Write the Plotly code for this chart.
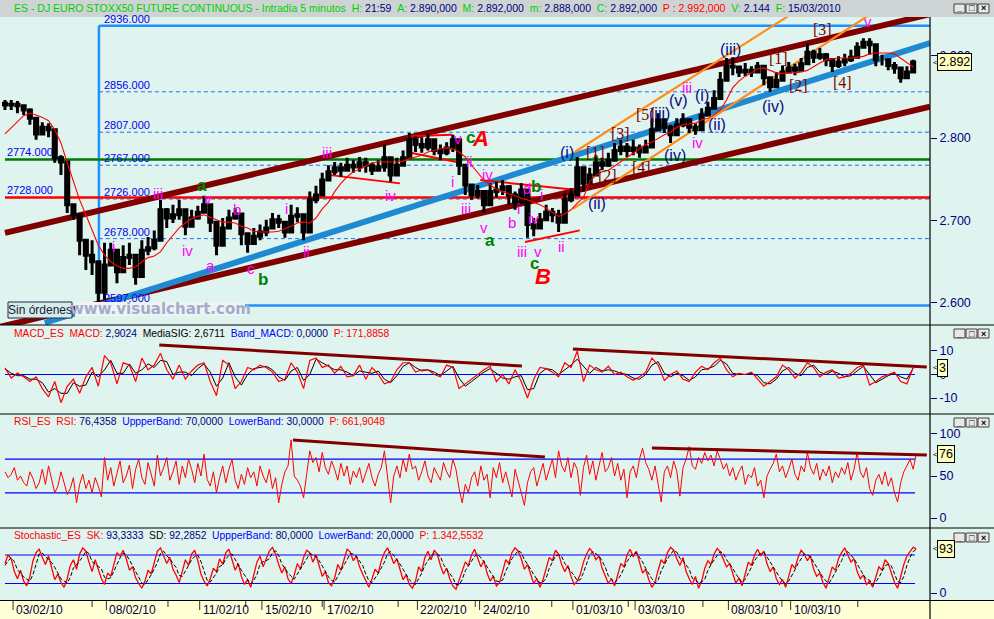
import plotly.graph_objects as go

# ------------------------------------------------------------------ data
# one bar = 1/5 trading day (5-minute candles aggregated)
close = [
    2840, 2841, 2839, 2834, 2824, 2805, 2813, 2810, 2776, 2771,
    2719, 2707, 2676, 2658, 2650, 2613, 2646, 2664, 2638, 2655,
    2658, 2632, 2664, 2667, 2676, 2713, 2703, 2707, 2713, 2693,
    2703, 2710, 2719, 2698, 2670, 2691, 2703, 2708, 2684, 2672,
    2681, 2686, 2691, 2701, 2698, 2686, 2705, 2707, 2686, 2725,
    2731, 2749, 2759, 2764, 2761, 2767, 2765, 2770, 2767, 2761,
    2765, 2776, 2755, 2767, 2776, 2798, 2792, 2789, 2798, 2785,
    2782, 2788, 2798, 2767, 2743, 2731, 2735, 2719, 2735, 2737,
    2741, 2731, 2722, 2737, 2695, 2691, 2701, 2710, 2707, 2698,
    2725, 2731, 2764, 2745, 2755, 2770, 2767, 2773, 2785, 2789,
    2785, 2788, 2783, 2789, 2810, 2822, 2813, 2804, 2816, 2822,
    2813, 2810, 2828, 2836, 2848, 2870, 2887, 2886, 2880, 2882,
    2880, 2887, 2873, 2862, 2870, 2880, 2885, 2882, 2890, 2904,
    2898, 2901, 2895, 2888, 2892, 2895, 2898, 2910, 2916, 2913,
    2895, 2895, 2888, 2885, 2873, 2880, 2892]
high = [
    2846, 2846, 2845, 2841, 2836, 2816, 2819, 2818, 2798, 2779,
    2755, 2715, 2701, 2676, 2676, 2640, 2673, 2673, 2655, 2670,
    2673, 2648, 2676, 2680, 2688, 2725, 2715, 2719, 2725, 2707,
    2713, 2718, 2730, 2713, 2688, 2703, 2713, 2715, 2698, 2682,
    2691, 2695, 2701, 2709, 2707, 2695, 2719, 2716, 2701, 2735,
    2742, 2758, 2767, 2771, 2770, 2776, 2773, 2777, 2776, 2770,
    2773, 2792, 2764, 2776, 2785, 2806, 2802, 2801, 2806, 2794,
    2792, 2795, 2804, 2779, 2761, 2742, 2743, 2731, 2745, 2747,
    2749, 2743, 2735, 2745, 2725, 2703, 2709, 2719, 2715, 2713,
    2733, 2739, 2777, 2759, 2764, 2779, 2776, 2782, 2794, 2798,
    2794, 2798, 2792, 2798, 2824, 2830, 2822, 2816, 2824, 2830,
    2822, 2818, 2836, 2844, 2858, 2880, 2897, 2898, 2888, 2891,
    2887, 2892, 2882, 2870, 2880, 2888, 2892, 2890, 2897, 2915,
    2907, 2909, 2903, 2897, 2899, 2902, 2907, 2916, 2921, 2921,
    2901, 2901, 2895, 2892, 2882, 2887, 2895]
low = [
    2834, 2834, 2830, 2828, 2816, 2798, 2807, 2801, 2770, 2755,
    2709, 2701, 2658, 2640, 2634, 2597, 2604, 2646, 2624, 2638,
    2646, 2622, 2652, 2658, 2664, 2691, 2691, 2697, 2701, 2682,
    2695, 2701, 2713, 2686, 2658, 2676, 2693, 2701, 2670, 2661,
    2673, 2676, 2681, 2691, 2691, 2679, 2695, 2698, 2676, 2707,
    2721, 2737, 2749, 2755, 2753, 2759, 2758, 2759, 2758, 2755,
    2759, 2759, 2747, 2759, 2770, 2783, 2783, 2782, 2785, 2779,
    2773, 2779, 2783, 2755, 2731, 2725, 2727, 2709, 2725, 2728,
    2731, 2719, 2713, 2727, 2679, 2681, 2691, 2701, 2698, 2686,
    2713, 2722, 2749, 2735, 2747, 2759, 2761, 2765, 2777, 2779,
    2777, 2779, 2776, 2783, 2798, 2812, 2806, 2794, 2807, 2813,
    2806, 2804, 2819, 2828, 2840, 2858, 2879, 2876, 2874, 2875,
    2874, 2880, 2864, 2856, 2862, 2873, 2879, 2876, 2882, 2892,
    2891, 2895, 2887, 2880, 2885, 2887, 2892, 2901, 2910, 2901,
    2887, 2888, 2882, 2878, 2867, 2873, 2882]
first_open = 2842
ma_line = [
    2805, 2812, 2819, 2827, 2830, 2828, 2825, 2821, 2810, 2794,
    2770, 2747, 2725, 2707, 2688, 2670, 2658, 2650, 2645, 2642,
    2642, 2644, 2650, 2655, 2657, 2662, 2673, 2682, 2691, 2697,
    2702, 2705, 2707, 2704, 2701, 2698, 2698, 2697, 2693, 2691,
    2687, 2686, 2686, 2686, 2687, 2690, 2693, 2697, 2698, 2697,
    2703, 2714, 2722, 2735, 2745, 2753, 2759, 2762, 2766, 2770,
    2771, 2771, 2771, 2771, 2772, 2775, 2777, 2779, 2783, 2785,
    2787, 2788, 2787, 2783, 2777, 2767, 2758, 2749, 2743, 2738,
    2735, 2732, 2730, 2727, 2725, 2722, 2719, 2715, 2710, 2705,
    2708, 2713, 2721, 2728, 2747, 2755, 2759, 2761, 2766, 2771,
    2777, 2782, 2787, 2792, 2795, 2800, 2804, 2807, 2813, 2816,
    2817, 2818, 2822, 2824, 2828, 2834, 2846, 2861, 2869, 2875,
    2879, 2884, 2885, 2882, 2879, 2878, 2879, 2879, 2880, 2882,
    2887, 2891, 2895, 2896, 2897, 2897, 2897, 2898, 2899, 2902,
    2903, 2903, 2903, 2902, 2897, 2892, 2886]
macd = [
    2.8, -1.5, 0.6, -1, -3, -1, -6, -9.5, -3, -12,
    -5, -2, -8, -1, 3, -5, 8, 5, -4, 5,
    4, -3, 7, 2, 4, 9, 2, -2, 4, -2,
    1.5, 4, 5, -3, -9, 6, 4, -6, -3, 3,
    2, 4, 3, 1, -3, -2, 5, 1, -6, 6,
    7, 3, 4, 0.5, 3.5, -1, -0.5, 4, -2, 3,
    0, -4, -3, 2, 5, 5, 1, 2, 2, 0,
    -1, 4, 3, -6, -4, -2, 0, 2, 3.5, -3,
    0, -4, 2, -3, -10, -2, 3, 2.5, 1, -1,
    5, 3, 10, -3, 4, 2, 1, 3.5, 0, 1,
    -1, -2.5, -1, 1, 7, 4, -2.5, 0, 1.5, -2,
    -3, 1, 3.5, 2, 5, 7, 2, -1, 0.5, 0,
    1, -2, -5, -3, -1, 4, 2, -1.5, 1, 5,
    3, -1, 1, 2, -1.5, -1, 0.5, 3, 4, -4.5,
    -3, -1, 0, 1, -3, -4, 2.9]
macd_signal = [
    2.5, 0.5, -0.5, -0.5, -2, -2, -3.5, -7.5, -6, -8,
    -8, -3.5, -5, -4.5, 1, -1, 2, 6, 0.5, 0.5,
    4.5, 0.5, 2, 4.5, 3, 6, 5.5, 0, 1, 1,
    -0.5, 2.5, 4.5, 1, -5, -1.5, 5, -1, -4.5, 0,
    2.5, 3, 3.5, 2, -1, -2.5, 1.5, 3, -2.5, 0,
    6.5, 5, 3.5, 2, 2, 1, -0.5, 1.5, 1, 0.5,
    1.5, -2, -3.5, -0.5, 3.5, 5, 3, 1.5, 2, 1,
    -0.5, 1.5, 3.5, -1.5, -5, -3, -1, 1, 2.5, 0.5,
    -1.5, -2, -1, -0.5, -6.5, -6, 0.5, 2.5, 2, 0,
    2, 4, 6.5, 3.5, 0.5, 3, 1.5, 2, 1.5, 0.5,
    0, -1.5, -2, 0, 4, 5.5, 0.5, -1, 0.5, -0.5,
    -2.5, -1, 2, 2.5, 3.5, 6, 4.5, 0.5, 0, 0,
    0.5, -0.5, -3.5, -4, -2, 1.5, 3, 0.5, -0.5, 3,
    4, 1, 0, 1.5, 0.5, -1, -0.5, 1.5, 3.5, 0,
    -3.5, -2, -0.5, 0.5, -1, -2, 2.7]
# two RSI / stochastic readings per bar
rsi = [
    55, 48, 52, 60, 45, 50, 42, 38, 55, 47, 35, 42, 58, 40, 62, 45, 30, 38, 55, 42, 28, 35, 48, 18, 40, 52, 35, 45, 30, 48, 38, 25,
    72, 45, 60, 38, 55, 68, 42, 50, 63, 35, 58, 70, 48, 40, 66, 52, 38, 75, 50, 60, 72, 45, 55, 68, 40, 62, 48, 70, 58, 42, 65, 50, 76, 46,
    38, 55, 30, 48, 62, 42, 58, 70, 45, 35, 52, 40, 60, 48, 55, 38, 62, 50, 42, 58, 35, 48, 18, 40, 55, 62, 93, 50, 45, 38, 24, 52,
    80, 66, 72, 55, 78, 60, 52, 68, 58, 45, 65, 50, 62, 40, 56, 48, 60, 42, 55, 65, 48, 38, 52, 60, 80, 45, 18, 50, 62, 48, 70, 55,
    76, 58, 62, 45, 55, 68, 50, 42, 60, 52, 45, 66, 55, 48, 70, 58, 35, 18, 40, 30, 48, 55, 38, 62, 45, 52, 24, 60, 48, 66, 42, 55,
    40, 25, 58, 45, 30, 15, 42, 55, 60, 38, 50, 65, 45, 58, 70, 48, 80, 62, 55, 72, 48, 66, 58, 27, 60, 75, 52, 68, 45, 62, 78, 55,
    60, 72, 50, 65, 45, 58, 24, 55, 62, 48, 70, 83, 66, 58, 45, 62, 40, 19, 55, 62, 48, 68, 56, 26, 60, 70, 85, 62, 58, 72, 65, 78,
    68, 75, 62, 80, 70, 58, 65, 50, 60, 45, 55, 62, 40, 52, 48, 60, 38, 45, 24, 50, 58, 65, 76, 55, 62, 48, 58, 70, 52, 45, 62, 55,
    78, 60, 52, 65, 45, 58, 50, 62, 42, 55, 48, 60, 52, 66, 45, 58, 78, 55, 48, 60, 35, 27, 45, 52, 40, 55, 38, 48, 30, 19, 42, 55, 62, 70, 58, 76]
stoch_k = [
    62, 80, 72, 45, 30, 48, 25, 15, 35, 68, 85, 92, 75, 60, 78, 55, 28, 40, 22, 12, 30, 58, 70, 50, 82, 95, 88, 65, 45, 70,
    52, 30, 18, 42, 35, 60, 85, 78, 90, 72, 48, 55, 32, 20, 10, 25, 48, 40, 65, 88, 95, 80, 62, 75, 50, 38, 22, 45, 70, 58,
    82, 90, 68, 40, 25, 15, 30, 52, 45, 72, 60, 85, 92, 70, 48, 62, 35, 18, 28, 12, 40, 65, 78, 55, 72, 88, 96, 82, 60, 42,
    55, 30, 20, 38, 62, 50, 75, 90, 85, 65, 80, 58, 35, 45, 22, 15, 32, 60, 48, 70, 92, 86, 68, 78, 55, 40, 25, 12, 30, 50,
    42, 68, 85, 95, 80, 62, 72, 50, 28, 38, 18, 10, 25, 55, 45, 75, 88, 70, 90, 82, 58, 40, 52, 30, 15, 8, 28, 48, 65, 58,
    80, 92, 75, 55, 68, 42, 25, 35, 15, 22, 45, 70, 62, 85, 95, 88, 72, 50, 60, 38, 20, 30, 12, 28, 52, 75, 68, 90, 82, 60,
    45, 58, 35, 18, 25, 40, 65, 82, 94, 85, 70, 78, 52, 35, 20, 30, 15, 38, 62, 55, 80, 92, 76, 88, 65, 42, 50, 28, 12, 22,
    48, 70, 62, 85, 96, 90, 72, 58, 75, 45, 30, 18, 35, 10, 25, 52, 68, 60, 82, 94, 86, 70, 55, 62, 38, 20, 32, 15, 40, 65,
    58, 80, 92, 78, 88, 62, 45, 55, 30, 18, 28, 12, 35, 60, 52, 75, 90, 82, 68, 78, 50, 35, 42, 22, 10, 30, 55, 48, 72, 85,
    95, 80, 65, 72, 45, 30, 38, 18, 25, 12, 32, 55, 48, 70, 62, 40, 22, 10, 35, 60, 78, 88, 96, 93]
stoch_d = [
    58, 68, 74, 66, 49, 41, 34, 29, 25, 39, 63, 82, 84, 76, 71, 64, 54, 41, 30, 25, 21, 33, 53, 59, 67, 76, 88, 83, 66, 60,
    56, 51, 33, 30, 32, 46, 60, 74, 84, 80, 70, 58, 45, 36, 21, 18, 28, 38, 51, 64, 83, 88, 79, 72, 62, 54, 37, 35, 46, 58,
    70, 77, 80, 66, 44, 27, 23, 32, 42, 56, 59, 72, 79, 82, 70, 60, 48, 38, 27, 19, 27, 39, 61, 66, 68, 72, 85, 89, 79, 61,
    52, 42, 35, 29, 40, 50, 62, 72, 83, 80, 77, 68, 58, 46, 34, 27, 23, 36, 47, 59, 70, 83, 82, 77, 67, 58, 40, 26, 22, 31,
    41, 53, 65, 83, 87, 79, 71, 61, 50, 39, 28, 22, 18, 30, 42, 58, 69, 78, 83, 81, 77, 60, 50, 41, 32, 18, 17, 28, 47, 57,
    68, 77, 82, 74, 66, 55, 45, 34, 25, 24, 27, 46, 59, 72, 81, 89, 85, 70, 61, 49, 39, 29, 21, 23, 31, 52, 65, 78, 80, 77,
    62, 54, 46, 37, 26, 28, 43, 62, 80, 87, 83, 78, 67, 55, 36, 28, 22, 28, 38, 52, 66, 76, 83, 85, 76, 65, 52, 40, 30, 21,
    27, 47, 60, 72, 81, 90, 86, 73, 68, 59, 50, 31, 28, 21, 23, 29, 48, 60, 70, 79, 87, 83, 70, 62, 52, 40, 30, 22, 29, 40,
    54, 68, 77, 83, 86, 76, 65, 54, 43, 34, 25, 19, 25, 36, 49, 62, 72, 82, 80, 76, 65, 54, 42, 33, 25, 21, 32, 44, 58, 68,
    84, 87, 80, 72, 61, 49, 38, 29, 27, 18, 23, 33, 45, 58, 60, 57, 41, 24, 22, 35, 58, 75, 87, 92]

date_labels = ["03/02/10", "08/02/10", "11/02/10", "15/02/10", "17/02/10", "22/02/10",
               "24/02/10", "01/03/10", "03/03/10", "08/03/10", "10/03/10"]
date_bar = [1.3, 16.3, 31.3, 41.3, 51.3, 66.3, 76.3, 91.3, 101.3, 116.3, 126.3]
minor_tick_bar = [14.0, 26.2, 38.7, 51.0, 63.2, 75.6, 87.9, 100.2, 112.2, 124.9, 137.1]

fib_levels = [2936, 2856, 2807, 2767, 2726, 2678, 2597]
fib_start_bar = 15.1
red_level = 2728
green_level = 2774

price_ticks = [2600, 2700, 2800, 2900]
price_tick_text = ["2.600", "2.700", "2.800", "2.900"]

# drawn trend lines: (bar0, price0, bar1, price1, color, width)
trend_lines = [
    (0.0, 2685, 148.7, 2950, "#800000", 6),      # upper channel
    (-0.8, 2571, 148.7, 2838, "#800000", 6),     # lower channel
    (6.4, 2576, 148.7, 2915, "#1f8ad2", 6),      # blue middle line
    (91.6, 2783, 127.0, 2953, "#ff8c1a", 2.2),   # orange upper
    (91.3, 2714, 139.5, 2952, "#ff8c1a", 2.2),   # orange lower
    (52.3, 2755, 63.5, 2745, "#ff0000", 2),
    (64.6, 2802, 71.9, 2804, "#ff0000", 2),
    (64.6, 2783, 73.2, 2770, "#ff0000", 2),
    (76.4, 2749, 92.0, 2737, "#ff0000", 2),
    (83.6, 2674, 92.4, 2688, "#ff0000", 2),
]
macd_resist = [(24.8, 12.6, 83.1, 3.6), (91.3, 10.9, 148.2, 3.2)]
rsi_resist = [(46.3, 92.9, 86.8, 72.6), (104.0, 83.3, 148.2, 75.0)]

wave_magenta = [
    ("i", 17.4, 2668), ("iii", 24.6, 2733), ("iv", 29.4, 2664), ("v", 32.6, 2727),
    ("a", 33.0, 2646), ("b", 37.3, 2713), ("c", 39.5, 2642), ("i", 45.3, 2714),
    ("ii", 48.4, 2663), ("iii", 51.8, 2783), ("iv", 61.9, 2730), ("v", 72.8, 2800),
    ("ii", 74.6, 2772), ("i", 71.9, 2747), ("iv", 77.5, 2756), ("iii", 74.1, 2714),
    ("v", 77.0, 2691), ("b", 81.5, 2697), ("i", 82.6, 2715), ("d", 83.9, 2739),
    ("i", 86.3, 2731), ("iv", 84.9, 2703), ("iii", 83.1, 2663), ("v", 85.7, 2663),
    ("ii", 89.5, 2669), ("iii", 109.6, 2861), ("iv", 111.3, 2794), ("v", 138.7, 2941),
]
wave_green = [("a", 31.7, 2742), ("b", 41.5, 2628), ("c", 74.8, 2801),
              ("a", 78.0, 2676), ("b", 85.4, 2741), ("c", 85.2, 2648)]
wave_red = [("A", 76.5, 2800), ("B", 86.5, 2632)]
wave_navy = [("(i)", 90.4, 2782), ("(ii)", 95.2, 2721), ("(iii)", 105.3, 2830),
             ("(v)", 108.2, 2845), ("(iv)", 107.7, 2779), ("(i)", 112.1, 2852),
             ("(ii)", 114.5, 2816), ("(iii)", 116.6, 2907), ("(iv)", 123.5, 2838)]
wave_bracket = [("[1]", 94.9, 2782), ("[2]", 96.8, 2754), ("[3]", 98.9, 2806),
                ("[4]", 102.4, 2764), ("[5]", 102.9, 2828), ("[1]", 124.3, 2897),
                ("[2]", 127.5, 2864), ("[3]", 131.5, 2932), ("[4]", 134.7, 2867)]

# ------------------------------------------------------------------ derived
n = min(len(close), len(high), len(low))
bars = list(range(n))
opens = [first_open] + close[:n - 1]
hi = [max(high[i], opens[i], close[i]) for i in range(n)]
lo = [min(low[i], opens[i], close[i]) for i in range(n)]

# ------------------------------------------------------------------ geometry helpers (window pixels -> paper)
PLOT_W, PLOT_H, PLOT_BOTTOM = 930.0, 583.0, 600.0
def pxx(px):
    return px / PLOT_W
def pxy(py):
    return (PLOT_BOTTOM - py) / PLOT_H

BG = "#e0f4ef"
NAVY = "#000080"
FONT = "Liberation Sans"
END_BAR = 146.3

fig = go.Figure()
fig.add_trace(go.Candlestick(
    x=bars, open=opens, high=hi, low=lo, close=close[:n],
    increasing=dict(line=dict(color="black", width=3), fillcolor="#00cc00"),
    decreasing=dict(line=dict(color="black", width=3), fillcolor="#ff0000"),
    whiskerwidth=0, xaxis="x", yaxis="y", showlegend=False, hoverinfo="skip"))
fig.add_trace(go.Scatter(x=list(range(len(ma_line))), y=ma_line, mode="lines",
                         line=dict(color="#ff0000", width=1.1), xaxis="x", yaxis="y",
                         showlegend=False, hoverinfo="skip"))
fig.add_trace(go.Scatter(x=list(range(len(macd_signal))), y=macd_signal, mode="lines",
                         line=dict(color="black", width=1), xaxis="x", yaxis="y2",
                         showlegend=False, hoverinfo="skip"))
fig.add_trace(go.Scatter(x=list(range(len(macd))), y=macd, mode="lines",
                         line=dict(color="#ff0000", width=1.2), xaxis="x", yaxis="y2",
                         showlegend=False, hoverinfo="skip"))
fig.add_trace(go.Scatter(x=[j * 0.5 for j in range(len(rsi))], y=rsi, mode="lines",
                         line=dict(color="#ff0000", width=1), xaxis="x", yaxis="y3",
                         showlegend=False, hoverinfo="skip"))
fig.add_trace(go.Scatter(x=[j * 0.5 for j in range(len(stoch_k))], y=stoch_k, mode="lines",
                         line=dict(color="#ff0000", width=1.3), xaxis="x", yaxis="y4",
                         showlegend=False, hoverinfo="skip"))
fig.add_trace(go.Scatter(x=[j * 0.5 for j in range(len(stoch_d))], y=stoch_d, mode="lines",
                         line=dict(color="black", width=1, dash="4px,2px"), xaxis="x", yaxis="y4",
                         showlegend=False, hoverinfo="skip"))

shapes = []
def hline(y, x0, x1, yref, color, width, dash="solid", layer="below"):
    shapes.append(dict(type="line", xref="x", yref=yref, x0=x0, x1=x1, y0=y, y1=y,
                       line=dict(color=color, width=width, dash=dash), layer=layer))

# fibonacci-type levels
for lv in fib_levels:
    solid = lv in (fib_levels[0], fib_levels[-1])
    hline(lv, fib_start_bar, 148.71, "y", "#1e90ff" if solid else "#1e6ef0",
          2.5 if solid else 1, "solid" if solid else "4px,3px")
shapes.append(dict(type="line", xref="x", yref="y", x0=fib_start_bar, x1=fib_start_bar,
                   y0=fib_levels[-1], y1=fib_levels[0], line=dict(color="#1e90ff", width=2.5),
                   layer="below"))
hline(red_level, 0, 148.71, "y", "#ff0000", 2.5)
hline(green_level, 0, 148.71, "y", "#007a00", 2.5)
for b0, p0, b1, p1, col, w in trend_lines:
    shapes.append(dict(type="line", xref="x", yref="y", x0=b0, y0=p0, x1=b1, y1=p1,
                       line=dict(color=col, width=w), layer="below"))
# oscillator bands
hline(0, 0, END_BAR, "y2", "#0000ff", 1.2)
hline(70, 0, END_BAR, "y3", "#0000ff", 1.2)
hline(30, 0, END_BAR, "y3", "#0000ff", 1.2)
hline(80, 0, END_BAR, "y4", "#0000ff", 1.2)
hline(20, 0, END_BAR, "y4", "#0000ff", 1.2)
for b0, v0, b1, v1 in macd_resist:
    shapes.append(dict(type="line", xref="x", yref="y2", x0=b0, y0=v0, x1=b1, y1=v1,
                       line=dict(color="#800000", width=3)))
for b0, v0, b1, v1 in rsi_resist:
    shapes.append(dict(type="line", xref="x", yref="y3", x0=b0, y0=v0, x1=b1, y1=v1,
                       line=dict(color="#800000", width=3)))

# frame: title bar, date strip, separators, right axis line
FULL = 994 / PLOT_W
shapes.append(dict(type="rect", xref="paper", yref="paper", x0=0, x1=FULL, y0=1, y1=pxy(0),
                   fillcolor="#cdd4d3", line=dict(width=0), layer="above"))
shapes.append(dict(type="rect", xref="paper", yref="paper", x0=0, x1=FULL, y0=pxy(619), y1=0,
                   fillcolor="#ffffd6", line=dict(width=0), layer="above"))
for sep in (325, 414, 528, 600.5):
    shapes.append(dict(type="line", xref="paper", yref="paper", x0=0, x1=FULL,
                       y0=pxy(sep), y1=pxy(sep), line=dict(color="black", width=1.2)))
shapes.append(dict(type="line", xref="paper", yref="paper", x0=1, x1=1, y0=pxy(619), y1=1,
                   line=dict(color="black", width=1.2)))
for b in date_bar:
    shapes.append(dict(type="line", xref="x", yref="paper", x0=b, x1=b, y0=pxy(601), y1=pxy(610),
                       line=dict(color="#303030", width=1)))
for b in minor_tick_bar:
    shapes.append(dict(type="line", xref="x", yref="paper", x0=b, x1=b, y0=pxy(601), y1=pxy(607),
                       line=dict(color="#303030", width=1)))
# window buttons
for top in (4, 329, 418, 533):
    for k, bx in enumerate((954, 966, 978)):
        shapes.append(dict(type="rect", xref="paper", yref="paper", x0=pxx(bx), x1=pxx(bx + 11),
                           y0=pxy(top + 9), y1=pxy(top), fillcolor="#e8e8e8",
                           line=dict(color="#404040", width=1)))
# overlay boxes
shapes.append(dict(type="rect", xref="paper", yref="paper", x0=pxx(75), x1=pxx(245),
                   y0=pxy(316), y1=pxy(302), fillcolor="#eef4f3", line=dict(width=0)))
shapes.append(dict(type="rect", xref="paper", yref="paper", x0=pxx(8), x1=pxx(72),
                   y0=pxy(318), y1=pxy(302), fillcolor="#d6ecea", line=dict(color="#203040", width=1)))

ann = []
def sp(text, color):
    return "<span style='color:%s'>%s</span>" % (color, text.replace(" ", "\u00a0"))

G, R, K, B = "#00d000", "#ff0000", "#000000", "#0000ff"
title = (sp("ES - DJ EURO STOXX50 FUTURE CONTINUOUS - Intradía 5 minutos  H: ", G) + sp("21:59", NAVY)
         + sp("  A: ", G) + sp("2.890,000", NAVY) + sp("  M: ", G) + sp("2.892,000", NAVY)
         + sp("  m: ", G) + sp("2.888,000", NAVY) + sp("  C: ", G) + sp("2.892,000", NAVY)
         + sp("  P : 2.992,000", R) + sp("  V: ", G) + sp("2.144", NAVY)
         + sp("  F: ", G) + sp("15/03/2010", NAVY))
ann.append(dict(text=title, xref="paper", yref="paper", x=pxx(12), y=pxy(8), xanchor="left",
                yanchor="middle", showarrow=False, font=dict(size=10.5, family=FONT)))
hdr_macd = (sp("MACD_ES  MACD: ", R) + sp("2,9024", NAVY) + sp("  MediaSIG: 2,6711", K)
            + sp("  Band_MACD: ", B) + sp("0,0000", NAVY) + sp("  P: 171,8858", R))
hdr_rsi = (sp("RSI_ES  RSI: ", R) + sp("76,4358", NAVY) + sp("  UppperBand: ", B) + sp("70,0000", NAVY)
           + sp("  LowerBand: ", B) + sp("30,0000", NAVY) + sp("  P: 661,9048", R))
hdr_sto = (sp("Stochastic_ES  SK: ", R) + sp("93,3333", NAVY) + sp("  SD: ", K) + sp("92,2852", NAVY)
           + sp("  UppperBand: ", B) + sp("80,0000", NAVY) + sp("  LowerBand: ", B) + sp("20,0000", NAVY)
           + sp("  P: 1.342,5532", R))
for txt, yy in ((hdr_macd, 333), (hdr_rsi, 421), (hdr_sto, 535)):
    ann.append(dict(text=txt, xref="paper", yref="paper", x=pxx(12), y=pxy(yy), xanchor="left",
                    yanchor="middle", showarrow=False, font=dict(size=10.3, family=FONT)))

# level labels
for lv in fib_levels:
    ann.append(dict(text="%d.000" % lv, xref="x", yref="y", x=fib_start_bar + 0.5, y=lv,
                    xanchor="left", yanchor="bottom", yshift=-1, showarrow=False,
                    font=dict(size=11, color="#0000ee", family=FONT)))
for lv in (green_level, red_level):
    ann.append(dict(text="%d.000" % lv, xref="x", yref="y", x=0, y=lv,
                    xanchor="left", yanchor="bottom", yshift=-1, showarrow=False,
                    font=dict(size=11, color="#0000ee", family=FONT)))

def waves(items, color, size, fmt="%s", family=FONT):
    for t, b, p in items:
        ann.append(dict(text=fmt % t, xref="x", yref="y", x=b, y=p, showarrow=False,
                        xanchor="center", yanchor="middle",
                        font=dict(size=size, color=color, family=family)))
waves(wave_magenta, "#ff00ff", 15)
waves(wave_green, "#008000", 17, "<b>%s</b>")
waves(wave_red, "#ff0000", 22, "<b><i>%s</i></b>")
waves(wave_navy, "#0a0a80", 16)
waves(wave_bracket, "#800000", 16, "%s", "Liberation Serif")

# value boxes on the right axis
for txt, yref, yv in (("2.892", "y", close[-1]), ("3", "y2", macd[-1]),
                      ("76", "y3", rsi[-1]), ("93", "y4", stoch_k[-1])):
    ann.append(dict(text=txt, xref="paper", yref=yref, x=1 + 7 / PLOT_W, y=yv, xanchor="left",
                    yanchor="middle", showarrow=False, bgcolor="#ffffc0", bordercolor="black",
                    borderwidth=1, borderpad=1, font=dict(size=12.5, color="black", family=FONT)))
    ann.append(dict(text="<", xref="paper", yref=yref, x=1 + 1 / PLOT_W, y=yv, xanchor="left",
                    yanchor="middle", showarrow=False, font=dict(size=8, color="black", family=FONT)))

# date labels
for lab, b in zip(date_labels, date_bar):
    ann.append(dict(text=lab, xref="x", yref="paper", x=b, y=pxy(610), xanchor="left",
                    yanchor="middle", xshift=1, showarrow=False,
                    font=dict(size=12, color="#000040", family=FONT)))
# window button glyphs
for top in (4, 329, 418, 533):
    for glyph, bx in (("_", 954), ("□", 966), ("×", 978)):
        ann.append(dict(text="<b>%s</b>" % glyph, xref="paper", yref="paper", x=pxx(bx + 5.5),
                        y=pxy(top + 4.5), xanchor="center", yanchor="middle", showarrow=False,
                        font=dict(size=9, color="black", family=FONT)))
ann.append(dict(text="<b>www.visualchart.com</b>", xref="paper", yref="paper", x=pxx(160), y=pxy(309),
                xanchor="center", yanchor="middle", showarrow=False,
                font=dict(size=15, color="#a3abcc", family="DejaVu Sans")))
ann.append(dict(text="Sin órdenes", xref="paper", yref="paper", x=pxx(40), y=pxy(310),
                xanchor="center", yanchor="middle", showarrow=False,
                font=dict(size=12, color="#10203a", family=FONT)))

def yax(dom, rng, tv, tt):
    return dict(domain=dom, range=rng, side="right", anchor="x", tickvals=tv, ticktext=tt,
                ticks="outside", ticklen=6, tickcolor=NAVY, tickwidth=1,
                tickfont=dict(size=12.5, color=NAVY, family=FONT), showgrid=False,
                zeroline=False, showline=False, fixedrange=True)

fig.update_layout(
    width=994, height=619, margin=dict(l=0, r=64, t=17, b=19),
    paper_bgcolor=BG, plot_bgcolor=BG, showlegend=False,
    font=dict(family=FONT),
    xaxis=dict(domain=[0, 1], range=[-0.804, 148.71], anchor="y4", showticklabels=False,
               showgrid=False, zeroline=False, showline=False, ticks="",
               rangeslider=dict(visible=False), fixedrange=True),
    yaxis=yax([pxy(325), 1], [2573.3, 2946.7], price_ticks, price_tick_text),
    yaxis2=yax([pxy(414), pxy(325)], [-16.81, 21.06], [-10, 0, 10], ["-10", "0", "10"]),
    yaxis3=yax([pxy(528), pxy(414)], [-11.9, 123.8], [0, 50, 100], ["0", "50", "100"]),
    yaxis4=yax([0, pxy(528)], [-14.7, 136.8], [0], ["0"]),
    shapes=shapes, annotations=ann,
)
fig.write_html("out.html", config={"displayModeBar": False},
               post_script="document.body.style.margin='0px';document.body.style.overflow='hidden';")
